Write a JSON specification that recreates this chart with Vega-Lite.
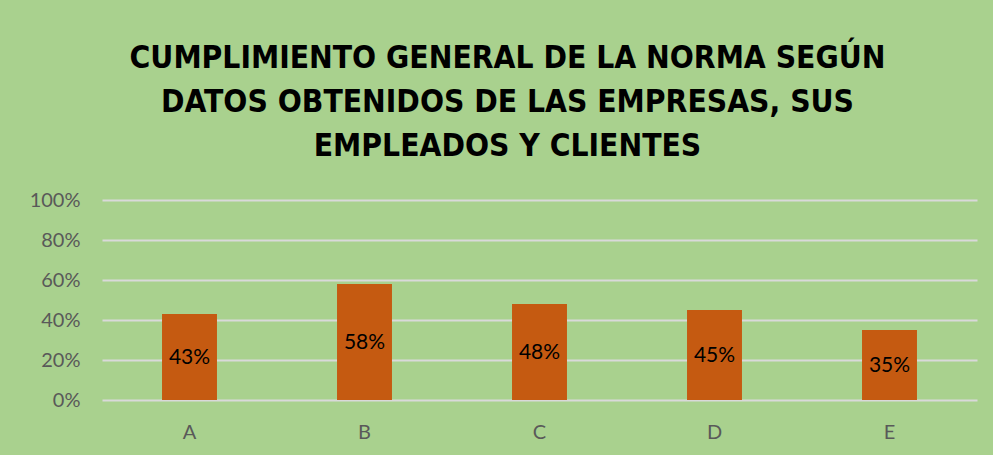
{
  "$schema": "https://vega.github.io/schema/vega-lite/v6.json",
  "autosize": "none",
  "width": 875,
  "height": 200,
  "padding": {"left": 102, "top": 200, "right": 16, "bottom": 55},
  "background": "#a9d18e",
  "title": {
    "text": ["CUMPLIMIENTO GENERAL DE LA NORMA SEGÚN", "DATOS OBTENIDOS DE LAS EMPRESAS, SUS", "EMPLEADOS Y CLIENTES"],
    "font": "DejaVu Sans Condensed",
    "fontSize": 31.5,
    "fontWeight": "bold",
    "color": "#000000",
    "lineHeight": 44,
    "anchor": "middle",
    "dx": -32,
    "offset": 28
  },
  "data": {
    "values": [
      {"empresa": "A", "valor": 0.43},
      {"empresa": "B", "valor": 0.58},
      {"empresa": "C", "valor": 0.48},
      {"empresa": "D", "valor": 0.45},
      {"empresa": "E", "valor": 0.35}
    ]
  },
  "config": {
    "view": {"stroke": null},
    "axis": {"labelFont": "Lato", "labelColor": "#595959", "labelFontSize": 20}
  },
  "encoding": {
    "x": {
      "field": "empresa", "type": "nominal", "title": null,
      "scale": {"paddingInner": 0.686, "paddingOuter": 0.343},
      "axis": {"labelAngle": 0, "domain": false, "ticks": false, "labelPadding": 22, "grid": false}
    }
  },
  "layer": [
    {
      "mark": {"type": "bar", "color": "#c55a11"},
      "encoding": {
        "y": {
          "field": "valor", "type": "quantitative", "title": null,
          "scale": {"domain": [0, 1]},
          "axis": {"format": ".0%", "values": [0, 0.2, 0.4, 0.6, 0.8, 1], "domain": false, "ticks": false, "labelPadding": 22, "gridColor": "#d9d9d9", "gridWidth": 2, "gridOpacity": 1}
        }
      }
    },
    {
      "mark": {"type": "text", "font": "Lato", "fontSize": 21, "color": "#000000", "baseline": "middle", "dy": 1},
      "encoding": {
        "y": {"field": "valor", "type": "quantitative", "scale": {"domain": [0, 2]}, "axis": null},
        "text": {"field": "valor", "type": "quantitative", "format": ".0%"}
      }
    }
  ],
  "resolve": {"scale": {"y": "independent"}}
}
